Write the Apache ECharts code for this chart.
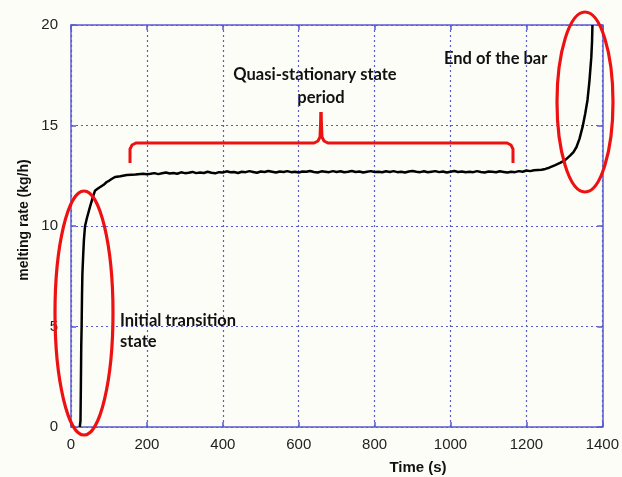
<!DOCTYPE html>
<html>
<head>
<meta charset="utf-8">
<script src="https://cdn.jsdelivr.net/npm/echarts@6/dist/echarts.min.js"></script>
<style>
html,body{margin:0;padding:0;background:#fdfdf8;}
#chart{width:622px;height:477px;}
</style>
</head>
<body>
<div id="chart"></div>
<script>
// Time (s)
var timeS = [23,25,26,27,28,29,30,32,34,37,42,50,57,63,70,78,86,94,100,108,116,130,147,170,190,200,
210,220,230,240,250,260,270,280,290,300,
310,320,330,340,350,360,370,380,390,400,
410,420,430,440,450,460,470,480,490,500,
510,520,530,540,550,560,570,580,590,600,
610,620,630,640,650,660,670,680,690,700,
710,720,730,740,750,760,770,780,790,800,
810,820,830,840,850,860,870,880,890,900,
910,920,930,940,950,960,970,980,990,1000,
1010,1020,1030,1040,1050,1060,1070,1080,1090,1100,
1110,1120,1130,1140,1150,1160,1170,1180,1190,1200,
1210,1220,1230,1240,1250,
1260,1276,1290,1302,1315,1324,1332,1340,1348,1355,1361,1366,1371,1373,1374];
// melting rate (kg/h)
var meltRate = [0,0.3,2,4,5,6.5,7.6,8.5,9.3,10,10.4,10.95,11.4,11.75,11.85,11.95,12.05,12.19,12.25,12.35,12.44,12.48,12.54,12.56,12.6,12.58,
12.6,12.63,12.58,12.62,12.66,12.61,12.64,12.6,12.67,12.63,
12.65,12.69,12.63,12.66,12.64,12.7,12.65,12.62,12.68,12.66,
12.72,12.67,12.69,12.64,12.7,12.68,12.73,12.69,12.65,12.71,
12.69,12.74,12.7,12.66,12.71,12.69,12.73,12.68,12.7,12.66,
12.71,12.7,12.74,12.69,12.66,12.72,12.7,12.68,12.73,12.69,
12.72,12.67,12.7,12.74,12.69,12.71,12.66,12.7,12.73,12.69,
12.7,12.67,12.72,12.69,12.73,12.68,12.7,12.66,12.71,12.74,
12.7,12.68,12.72,12.67,12.7,12.73,12.68,12.71,12.66,12.7,
12.74,12.69,12.71,12.67,12.7,12.68,12.73,12.69,12.66,12.71,
12.7,12.67,12.72,12.69,12.66,12.7,12.68,12.73,12.7,12.76,
12.73,12.77,12.79,12.8,12.84,
12.9,13.03,13.15,13.28,13.5,13.68,13.93,14.35,14.93,15.6,16.27,17.2,18.4,19.2,20];
var xTicks = [0,200,400,600,800,1000,1200,1400];
var yTicks = [0,5,10,15,20];

var blue = '#5a5ad2';
var red = '#ee1111';
var annoFont = 'bold 16.5px Lato, "Open Sans", sans-serif';

var chart = echarts.init(document.getElementById('chart'));
var seriesData = timeS.map(function(t, i){ return [t, meltRate[i]]; });

function axisBase(pos, show){
  return {
    type:'value', position: pos,
    axisLine:{show:true, onZero:false, lineStyle:{color:blue, width:1.5}},
    axisTick:{show:true, inside:true, length:5, lineStyle:{color:blue, width:1.5}},
    splitLine:{show:false},
    axisLabel:{show:show, color:'#222', fontFamily:'"Liberation Sans", Arial, sans-serif', fontSize:15,
      formatter:function(v){ return String(v); }}
  };
}
var xMain = axisBase('bottom', true);
xMain.min = xTicks[0]; xMain.max = xTicks[xTicks.length-1]; xMain.interval = 200;
xMain.axisLabel.margin = 10;
xMain.splitLine = {show:true, lineStyle:{color:blue, type:[2,3], width:1.2}};
var xTop = axisBase('top', false);
xTop.min = 0; xTop.max = 1400; xTop.interval = 200;
var yMain = axisBase('left', true);
yMain.min = yTicks[0]; yMain.max = yTicks[yTicks.length-1]; yMain.interval = 5;
yMain.axisLabel.margin = 13;
yMain.splitLine = {show:true, lineStyle:{color:blue, type:[2,3], width:1.2}};
var yRight = axisBase('right', false);
yRight.min = 0; yRight.max = 20; yRight.interval = 5;

chart.setOption({
  backgroundColor:'#fdfdf8',
  animation:false,
  grid:{left:71, top:25, right:18, bottom:50, show:false},
  xAxis:[xMain, xTop],
  yAxis:[yMain, yRight],
  series:[{
    type:'line', xAxisIndex:0, yAxisIndex:0,
    data:seriesData, showSymbol:false, symbol:'none',
    lineStyle:{color:'#000', width:2.5}, z:3
  }],
  graphic:[
    {type:'text', x:24, y:220, rotation:Math.PI/2, style:{text:'melting rate (kg/h)', font:'bold 14px "Liberation Sans", Arial, sans-serif', fill:'#111', textAlign:'center', textVerticalAlign:'middle'}},
    {type:'text', x:418, y:468, style:{text:'Time (s)', font:'bold 15px "Liberation Sans", Arial, sans-serif', fill:'#111', textAlign:'center', textVerticalAlign:'middle'}},
    {type:'text', x:315, y:75, style:{text:'Quasi-stationary state', font:annoFont, fill:'#111', textAlign:'center', textVerticalAlign:'middle'}},
    {type:'text', x:321, y:98, style:{text:'period', font:annoFont, fill:'#111', textAlign:'center', textVerticalAlign:'middle'}},
    {type:'text', x:444, y:59, style:{text:'End of the bar', font:annoFont, fill:'#111', textAlign:'left', textVerticalAlign:'middle'}},
    {type:'text', x:120, y:321, style:{text:'Initial transition', font:annoFont, fill:'#111', textAlign:'left', textVerticalAlign:'middle'}},
    {type:'text', x:120, y:342, style:{text:'state', font:annoFont, fill:'#111', textAlign:'left', textVerticalAlign:'middle'}},
    {type:'ellipse', shape:{cx:84, cy:313, rx:29, ry:122}, style:{fill:null, stroke:red, lineWidth:3.2}, z:100},
    {type:'ellipse', shape:{cx:585, cy:102, rx:28, ry:90}, style:{fill:null, stroke:red, lineWidth:3.2}, z:100},
    {type:'polyline', shape:{points:[[130,163],[130,149],[132,145],[136,143],[314,143],[318,141],[320,137],[321,112]]}, style:{stroke:red, lineWidth:3, fill:null}, z:100},
    {type:'polyline', shape:{points:[[321,112],[322,137],[324,141],[328,143],[507,143],[511,145],[513,149],[513,163]]}, style:{stroke:red, lineWidth:3, fill:null}, z:100}
  ]
});
</script>
</body>
</html>
